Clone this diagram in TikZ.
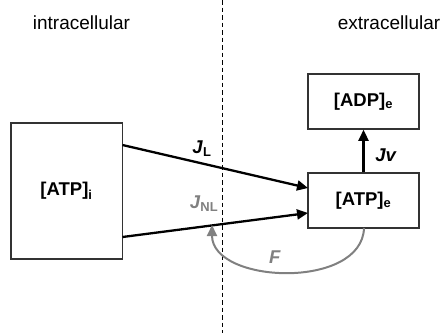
\documentclass[tikz,border=0pt]{standalone}
\usepackage{fontspec}
\setmainfont{Liberation Sans}
\usetikzlibrary{arrows.meta}
\definecolor{fluxgray}{RGB}{128,128,128}
\newcommand{\lowidx}[1]{\textsubscript{#1}}
\tikzset{
  pool/.style={draw=black!80, line width=1.5pt, inner sep=0pt, font=\fontsize{18.5}{20}\selectfont\bfseries},
  flux/.style={line width=2.3pt, -{Triangle[length=11pt,width=10pt]}},
  region/.style={font=\fontsize{19}{21}\selectfont, anchor=base},
  fluxlabel/.style={font=\fontsize{18.5}{20}\selectfont\bfseries}
}
\begin{document}
\begin{tikzpicture}[x=1pt,y=-1pt]
  \useasboundingbox (0,0) rectangle (443,333);

  % membrane
  \draw[line width=1pt, dash pattern=on 4.5pt off 3pt] (222,0) -- (222,333);

  % compartment labels
  \node[region] (intra) at (81.5,29.5) {intracellular};
  \node[region] (extra) at (389,29.5) {extracellular};

  % pools
  \node[pool, minimum width=111.5pt, minimum height=136pt] (atpi) at (66.5,191) {[ATP]\lowidx{i}};
  \node[pool, minimum width=111pt, minimum height=55pt] (atpe) at (363.5,200.5) {[ATP]\lowidx{e}};
  \node[pool, minimum width=111pt, minimum height=55pt] (adpe) at (363.5,101.5) {[ADP]\lowidx{e}};

  % anchor points on the pool borders
  \coordinate (lout) at (122.5,145);
  \coordinate (nlout) at (122.5,237);
  \coordinate (lin) at (308,188);
  \coordinate (nlin) at (308,213);
  \coordinate (ftip) at (212,225);

  % fluxes
  \draw[flux] (lout) -- (lin);
  \draw[flux] (nlout) -- (nlin);
  \draw[flux] (atpe.north) -- (adpe.south);
  \draw[flux, fluxgray, line width=2pt]
    (364,228) .. controls (362,290) and (212,284) .. (ftip);

  % flux labels
  \node[fluxlabel] (jl) at (202,149) {\textit{J}\lowidx{L}};
  \node[fluxlabel, text=fluxgray] (jnl) at (204,204) {\textit{J}\lowidx{NL}};
  \node[fluxlabel] (jv) at (386,155) {\textit{Jv}};
  \node[fluxlabel, text=fluxgray] (f) at (275,257) {\textit{F}};
\end{tikzpicture}
\end{document}
